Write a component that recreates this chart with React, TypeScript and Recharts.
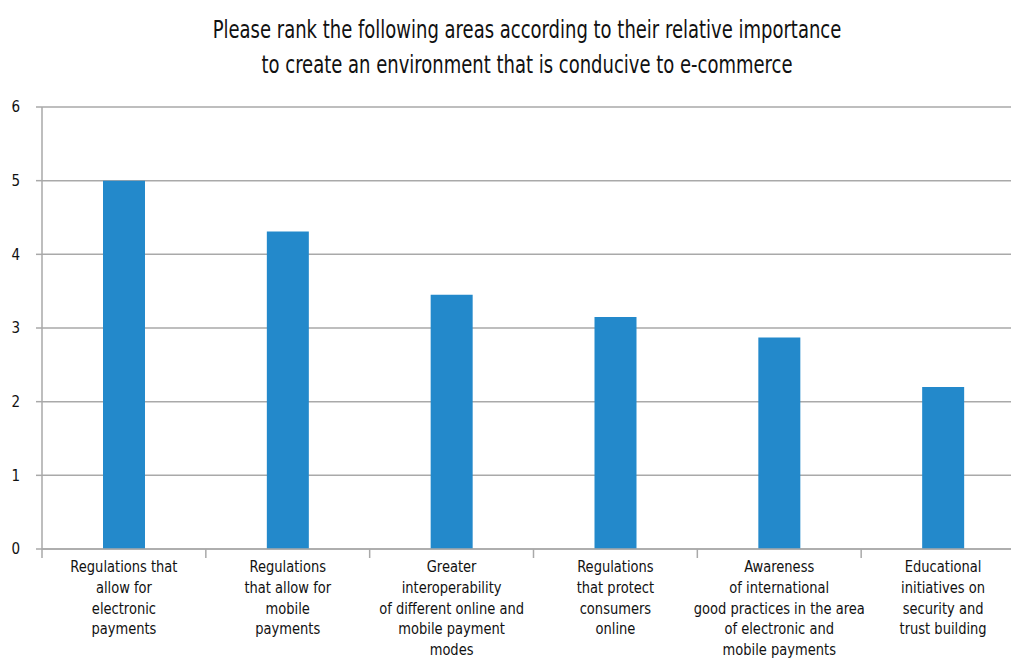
import React from "react";
import { BarChart, Bar, XAxis, YAxis, CartesianGrid } from "recharts";

const categories = [
  "Regulations that\nallow for\nelectronic\npayments",
  "Regulations\nthat allow for\nmobile\npayments",
  "Greater\ninteroperability\nof different online and\nmobile payment\nmodes",
  "Regulations\nthat protect\nconsumers\nonline",
  "Awareness\nof international\ngood practices in the area\nof electronic and\nmobile payments",
  "Educational\ninitiatives on\nsecurity and\ntrust building",
];
const values = [5.0, 4.31, 3.45, 3.15, 2.87, 2.2];
const yTicks = [0, 1, 2, 3, 4, 5, 6];
const titleLines = [
  "Please rank the following areas according to their relative importance",
  "to create an environment that is conducive to e-commerce",
];

const data = categories.map((c, i) => ({ name: c, value: values[i] }));

const FONT = "'DejaVu Sans Condensed', 'Liberation Sans Narrow', sans-serif";
const GRAY = "#a9a9a9";
const CHART_W = 1040;
const CHART_H = 660;
const MARGIN = { top: 107, right: 15, bottom: 0, left: 0 };
const Y_W = 42;
const PLOT_W = CHART_W - MARGIN.left - MARGIN.right - Y_W;
const BAND = PLOT_W / categories.length;
const LABEL_SX = 0.88;

const XTick = (props: any) => {
  const { x, y, payload } = props;
  const lines = String(payload.value).split("\n");
  const bx = x - BAND / 2;
  return (
    <g>
      <line x1={bx} y1={y} x2={bx} y2={y + 9} stroke={GRAY} strokeWidth={1.5} />
      <g transform={`translate(${x},0) scale(${LABEL_SX},1)`}>
        <text x={0} y={y} textAnchor="middle" fontFamily={FONT} fontSize={16.5} fill="#111">
          {lines.map((l, i) => (
            <tspan key={i} x={0} dy={i === 0 ? 23 : 20.8}>
              {l}
            </tspan>
          ))}
        </text>
      </g>
    </g>
  );
};

export default function App() {
  return (
    <div
      style={{
        position: "absolute",
        left: 0,
        top: 0,
        width: 1011,
        height: 660,
        overflow: "hidden",
        background: "#fff",
      }}
    >
      <div
        style={{
          position: "absolute",
          left: 27,
          width: 1000,
          top: 12,
          textAlign: "center",
          fontFamily: FONT,
          fontSize: 25,
          lineHeight: "35px",
          color: "#111",
          whiteSpace: "nowrap",
          transform: "scaleX(0.8)",
          transformOrigin: "500px 0px",
        }}
      >
        {titleLines.map((t, i) => (
          <div key={i}>{t}</div>
        ))}
      </div>
      <BarChart width={CHART_W} height={CHART_H} data={data} margin={MARGIN}>
        <CartesianGrid vertical={false} stroke={GRAY} strokeWidth={1.5} />
        <XAxis
          dataKey="name"
          interval={0}
          height={CHART_H - 549}
          axisLine={{ stroke: GRAY, strokeWidth: 1.5 }}
          tickLine={false}
          tickSize={0}
          tickMargin={0}
          tick={<XTick />}
        />
        <YAxis
          width={Y_W}
          domain={[0, 6]}
          ticks={yTicks}
          interval={0}
          axisLine={{ stroke: GRAY, strokeWidth: 1.5 }}
          tickLine={{ stroke: GRAY, strokeWidth: 1.5 }}
          tickSize={6}
          tickMargin={16}
          tick={{ fontFamily: FONT, fontSize: 15, fill: "#111" }}
        />
        <Bar dataKey="value" fill="#2389cb" barSize={42} isAnimationActive={false} />
      </BarChart>
    </div>
  );
}
